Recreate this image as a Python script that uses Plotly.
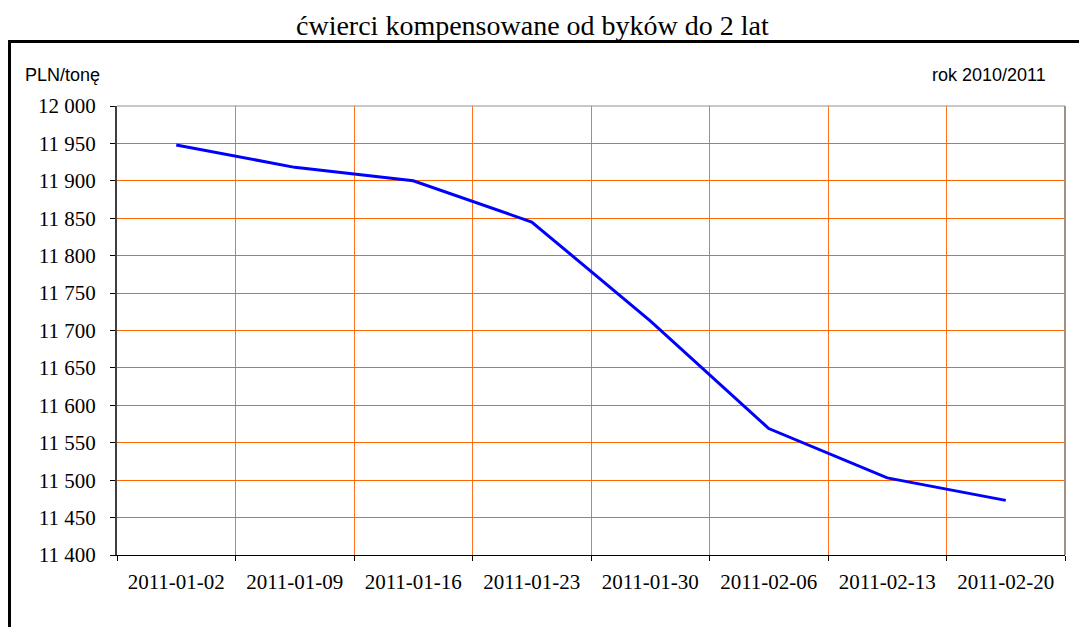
import plotly.graph_objects as go

categories = ["2011-01-02", "2011-01-09", "2011-01-16", "2011-01-23",
              "2011-01-30", "2011-02-06", "2011-02-13", "2011-02-20"]
prices = [11948, 11918, 11900, 11845, 11713, 11569, 11503, 11473]
y_ticks = list(range(11400, 12001, 50))
y_ticktext = [f"{v:,}".replace(",", " ") for v in y_ticks]

title_text = "ćwierci kompensowane od byków do 2 lat"
unit_text = "PLN/tonę"
year_text = "rok 2010/2011"

W, H = 1079, 627
L, R, T, B = 117, 14, 106, 72
pw = W - L - R
ph = H - T - B

def px_x(x):
    return (x - L) / pw

def px_y(y):
    return (H - B - y) / ph

fig = go.Figure()
fig.add_trace(go.Scatter(
    x=categories, y=prices, mode="lines",
    line=dict(color="#0000FF", width=3),
    showlegend=False, hoverinfo="x+y",
))

serif = "Liberation Serif, Times New Roman, serif"
sans = "Liberation Sans, Arial, sans-serif"

fig.update_layout(
    width=W, height=H,
    margin=dict(l=L, r=R, t=T, b=B),
    paper_bgcolor="white", plot_bgcolor="white",
    xaxis=dict(
        type="category", tickson="boundaries", range=[-0.5, 7.5],
        showgrid=True, gridcolor="#FF7320", gridwidth=1,
        showline=True, linecolor="black", linewidth=1,
        ticks="outside", ticklen=5, tickcolor="black",
        ticklabelstandoff=8,
        tickfont=dict(family=serif, size=21, color="black"),
        zeroline=False,
    ),
    yaxis=dict(
        range=[11400, 12000], tickvals=y_ticks, ticktext=y_ticktext,
        showgrid=True, gridcolor="#FF6600", gridwidth=1,
        showline=True, linecolor="#404040", linewidth=2,
        ticks="outside", ticklen=5, tickcolor="black",
        ticklabelstandoff=10,
        tickfont=dict(family=serif, size=21, color="black"),
        zeroline=False,
    ),
    shapes=[
        dict(type="line", xref="paper", yref="paper", x0=0, x1=1, y0=1, y1=1,
             line=dict(color="#909090", width=1), layer="above"),
        dict(type="line", xref="paper", yref="paper", x0=1, x1=1, y0=0, y1=1,
             line=dict(color="#A09080", width=2), layer="above"),
        dict(type="line", xref="paper", yref="paper",
             x0=px_x(9.5), x1=px_x(9.5), y0=px_y(41), y1=px_y(640),
             line=dict(color="black", width=3)),
        dict(type="line", xref="paper", yref="paper",
             x0=px_x(8), x1=px_x(1090), y0=px_y(41.5), y1=px_y(41.5),
             line=dict(color="black", width=3)),
    ],
    annotations=[
        dict(text=title_text, xref="paper", yref="paper",
             x=px_x(532), y=px_y(25), xanchor="center", yanchor="middle",
             showarrow=False, font=dict(family=serif, size=28, color="black")),
        dict(text=unit_text, xref="paper", yref="paper",
             x=px_x(23), y=px_y(75), xanchor="left", yanchor="middle",
             showarrow=False, font=dict(family=sans, size=18, color="black")),
        dict(text=year_text, xref="paper", yref="paper",
             x=px_x(1048), y=px_y(75), xanchor="right", yanchor="middle",
             showarrow=False, font=dict(family=sans, size=18, color="black")),
    ],
)

fig.write_html("out.html", config={"displayModeBar": False},
               post_script="document.body.style.margin='0';")
